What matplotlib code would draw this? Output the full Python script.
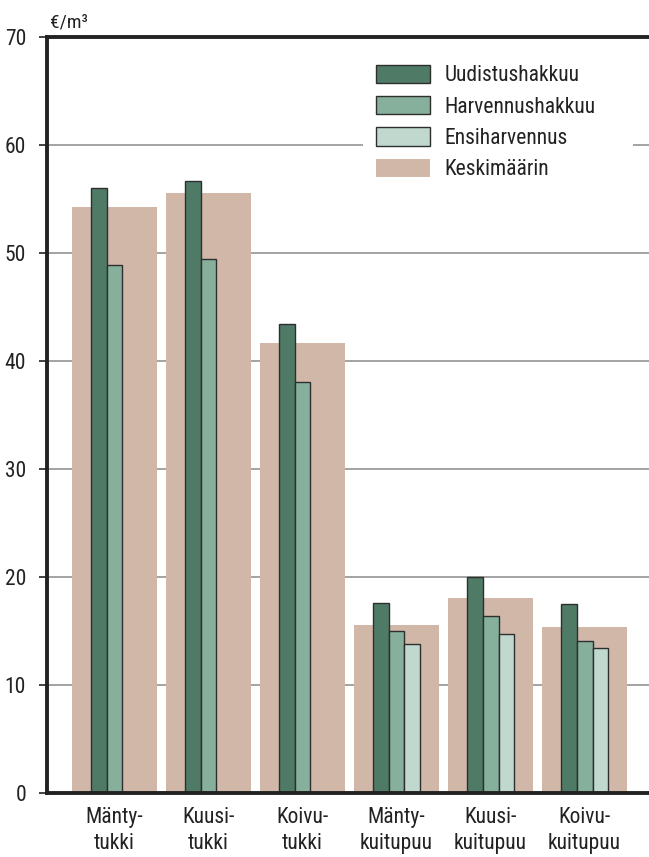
import numpy as np
import matplotlib
matplotlib.use("Agg")
import matplotlib.pyplot as plt
from matplotlib.patches import Patch, Rectangle

plt.rcParams['font.family'] = ['Roboto Condensed', 'Archivo Narrow', 'Liberation Sans', 'DejaVu Sans']

# Data (euro per m3)
categories = ['Mänty-\ntukki', 'Kuusi-\ntukki', 'Koivu-\ntukki',
              'Mänty-\nkuitupuu', 'Kuusi-\nkuitupuu', 'Koivu-\nkuitupuu']
uudistus = [56.0, 56.7, 43.4, 17.6, 20.0, 17.5]
harvennus = [48.9, 49.4, 38.1, 15.0, 16.4, 14.1]
ensiharvennus = [np.nan, np.nan, np.nan, 13.8, 14.7, 13.4]
keskimaarin = [54.3, 55.6, 41.7, 15.6, 18.1, 15.4]
yticks = [0, 10, 20, 30, 40, 50, 60, 70]

c_dark = '#4f7a66'
c_mid = '#86b09b'
c_light = '#c0d8cd'
c_avg = '#d0b7a8'
c_edge = '#2e2e2e'
c_text = '#222222'

fig = plt.figure(figsize=(6.49, 8.57), dpi=100)
ax = fig.add_axes([47 / 649, 1 - 793 / 857, 1 - 47 / 649, (793 - 37) / 857])

x = np.arange(len(categories))
w = 0.17

ax.bar(x, keskimaarin, width=0.904, color=c_avg, zorder=2)
ax.bar(x - w, uudistus, width=w, color=c_dark, edgecolor=c_edge, linewidth=1, zorder=3)
ax.bar(x, harvennus, width=w, color=c_mid, edgecolor=c_edge, linewidth=1, zorder=3)
ax.bar(x + w, ensiharvennus, width=w, color=c_light, edgecolor=c_edge, linewidth=1, zorder=3)

ax.set_xlim(-0.718, 5.686)
ax.set_ylim(0, 70)
ax.set_yticks(yticks)
ax.set_xticks(x)
ax.set_xticklabels(categories, linespacing=1.3)
ax.yaxis.grid(True, color='#9c9c9c', linewidth=1.3, zorder=1)
ax.set_axisbelow(True)

for side in ['left', 'bottom', 'top']:
    ax.spines[side].set_linewidth(2.8)
    ax.spines[side].set_color(c_text)
    ax.spines[side].set_zorder(5)
ax.spines['right'].set_visible(False)

ax.tick_params(axis='y', length=6, width=1.2, color=c_text, pad=9,
               labelsize=15.5, labelcolor=c_text)
ax.tick_params(axis='x', length=0, pad=10, labelsize=15.5, labelcolor=c_text)

ax.text(0.005, 1.0132, '€/m³', transform=ax.transAxes, fontsize=14,
        color=c_text, ha='left', va='baseline')

# white backing behind the legend (hides the 60 gridline there)
fig.patches.append(Rectangle((363 / 649, 1 - 185 / 857), 270 / 649, 130 / 857,
                             transform=fig.transFigure, facecolor='white',
                             edgecolor='none', zorder=1))

handles = [
    Patch(facecolor=c_dark, edgecolor=c_edge, linewidth=1, label='Uudistushakkuu'),
    Patch(facecolor=c_mid, edgecolor=c_edge, linewidth=1, label='Harvennushakkuu'),
    Patch(facecolor=c_light, edgecolor=c_edge, linewidth=1, label='Ensiharvennus'),
    Patch(facecolor=c_avg, edgecolor='none', label='Keskimäärin'),
]
leg = fig.legend(handles=handles, loc='upper left',
                 bbox_to_anchor=(363 / 649, 1 - 52 / 857),
                 fontsize=15.5, frameon=False, handlelength=2.5,
                 handleheight=0.93, labelspacing=0.45, handletextpad=0.7,
                 borderpad=0.6, borderaxespad=0)
leg.set_zorder(6)
for t in leg.get_texts():
    t.set_color(c_text)

fig.savefig('out.png', dpi=100)
